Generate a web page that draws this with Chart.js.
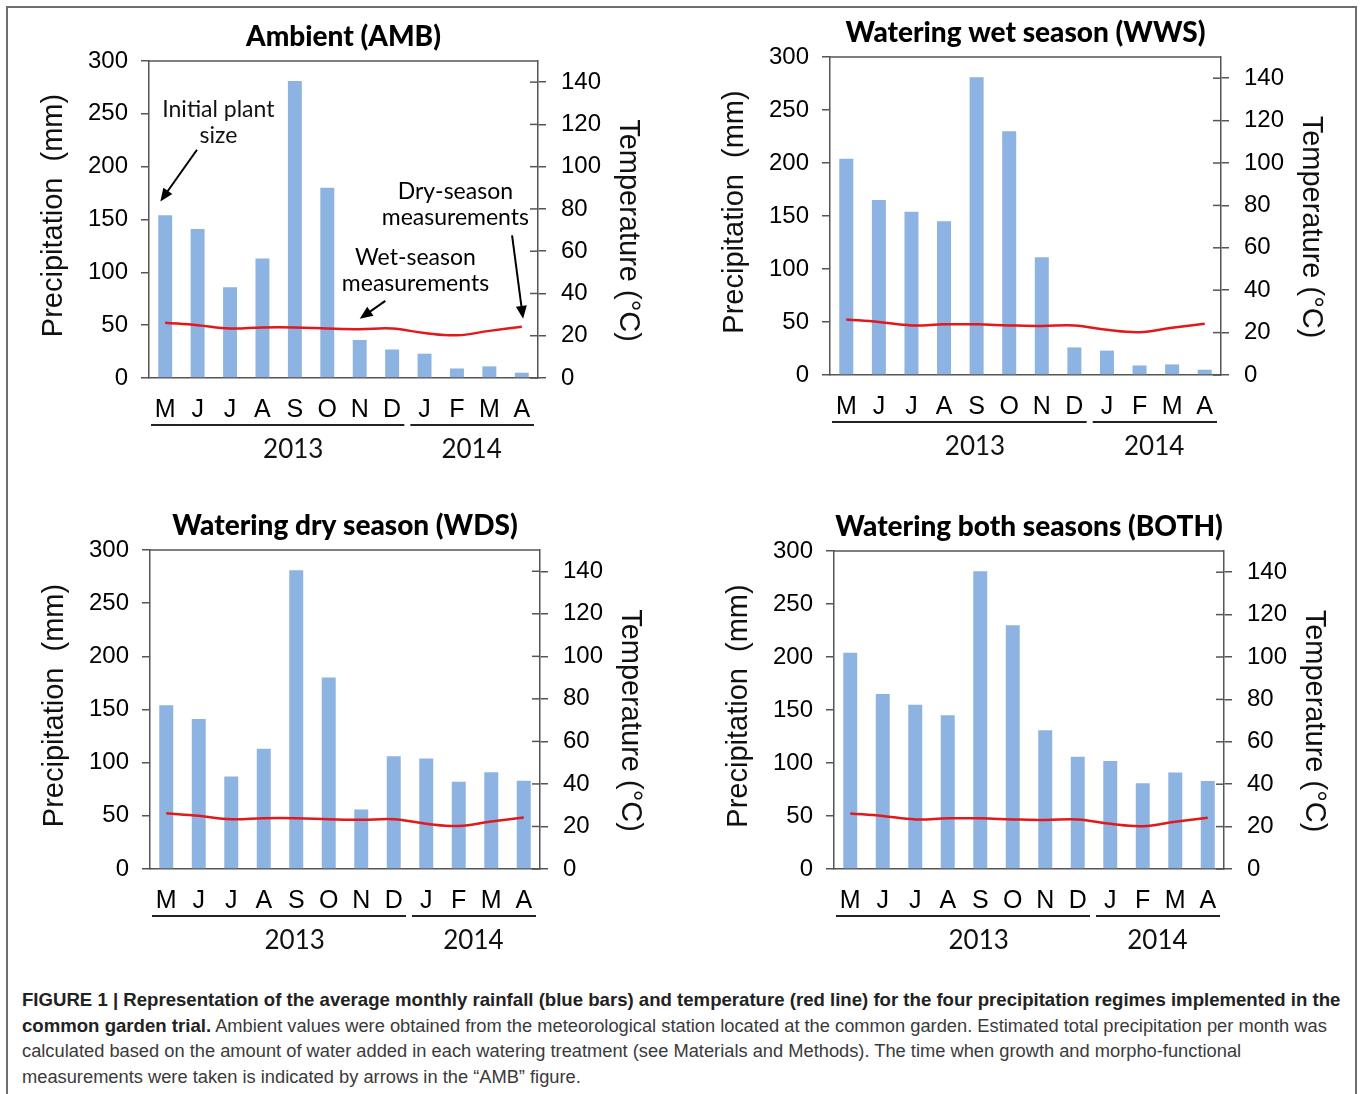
<!DOCTYPE html>
<html><head><meta charset="utf-8">
<script src="https://cdn.jsdelivr.net/npm/chart.js@4"></script>
<style>
html,body{margin:0;padding:0;background:#fff;}
body{width:1360px;height:1094px;position:relative;overflow:hidden;font-family:"Liberation Sans",Arial,sans-serif;}
#frame{position:absolute;left:6px;top:6px;width:1351px;height:1110px;border:2px solid #6e6e6e;box-sizing:border-box;}
canvas{position:absolute;}
#caption{position:absolute;left:22px;top:987px;font-size:18.3px;line-height:25.5px;color:#3a3a3a;white-space:nowrap;}
#caption b{color:#222;font-size:18.6px;}
</style></head>
<body>
<div id="frame"></div>
<canvas id="c0"></canvas>
<canvas id="c1"></canvas>
<canvas id="c2"></canvas>
<canvas id="c3"></canvas>
<div id="caption"><b>FIGURE 1 | Representation of the average monthly rainfall (blue bars) and temperature (red line) for the four precipitation regimes implemented in the</b><br><b>common garden trial.</b> Ambient values were obtained from the meteorological station located at the common garden. Estimated total precipitation per month was<br>calculated based on the amount of water added in each watering treatment (see Materials and Methods). The time when growth and morpho-functional<br>measurements were taken is indicated by arrows in the “AMB” figure.</div>
<script>
// ---- data ----
const months = ['M','J','J','A','S','O','N','D','J','F','M','A'];
const yearLabels = ['2013','2014'];
const yearStart = [0, 8];
const yearEnd = [7, 11];
const yearLabelAt = [3.95, 9.45];
const temperature = [26.2, 25.0, 23.4, 23.9, 23.9, 23.4, 23.1, 23.4, 21.3, 20.2, 22.3, 24.2];
const rainAMB  = [154, 141, 86, 113, 281, 180, 36, 27, 23, 9, 11, 5];
const rainWWS  = [204, 165, 154, 145, 281, 230, 111, 26, 23, 9, 10, 5];
const rainWDS  = [154, 141, 87, 113, 281, 180, 56, 106, 104, 82, 91, 83];
const rainBOTH = [204, 165, 155, 145, 281, 230, 131, 106, 102, 81, 91, 83];
const panelTitles = ['Ambient (AMB)', 'Watering wet season (WWS)', 'Watering dry season (WDS)', 'Watering both seasons (BOTH)'];
const panelRain = [rainAMB, rainWWS, rainWDS, rainBOTH];
const precipMax = 300, precipStep = 50;
const tempMax = 150, tempStep = 20;
// annotations on AMB (category index, mm)
const noteLines = [['Initial plant', 'size'], ['Dry-season', 'measurements'], ['Wet-season', 'measurements']];
const noteAt = [[1.64, 254], [8.95, 176], [7.72, 113.6]];
const arrowFrom = [[0.98, 216], [10.7, 135], [6.79, 73]];
const arrowTo = [[-0.15, 167], [11.04, 56], [6.0, 56]];

// ---- layout (chart-area boxes in page px) ----
const boxes = [
  {L:149, R:538, T:61, B:378},
  {L:830, R:1221, T:57, B:375},
  {L:150, R:540, T:550, B:869},
  {L:834, R:1224, T:551, B:869}
];
const PADL = 140, PADR = 120, PADT = 55, PADB = 100;
const AXIS = '#555';
const BAR = '#8DB3E2';
const RED = '#E2191C';

function arrow(ctx, x1, y1, x2, y2) {
  const a = Math.atan2(y2 - y1, x2 - x1), h = 13, w = 5.5;
  ctx.beginPath(); ctx.moveTo(x1, y1);
  ctx.lineTo(x2 - Math.cos(a) * h * 0.8, y2 - Math.sin(a) * h * 0.8);
  ctx.lineWidth = 2; ctx.strokeStyle = '#000'; ctx.stroke();
  ctx.beginPath(); ctx.moveTo(x2, y2);
  ctx.lineTo(x2 - Math.cos(a) * h + Math.sin(a) * w, y2 - Math.sin(a) * h - Math.cos(a) * w);
  ctx.lineTo(x2 - Math.cos(a) * h - Math.sin(a) * w, y2 - Math.sin(a) * h + Math.cos(a) * w);
  ctx.closePath(); ctx.fillStyle = '#000'; ctx.fill();
}

const decor = {
  id: 'decor',
  afterDraw(chart, args, opts) {
    const ctx = chart.ctx, ca = chart.chartArea;
    const x = chart.scales.x, y = chart.scales.y, y2 = chart.scales.y2;
    ctx.save();
    // top frame
    ctx.strokeStyle = AXIS; ctx.lineWidth = 1.5;
    ctx.beginPath(); ctx.moveTo(ca.left, ca.top); ctx.lineTo(ca.right, ca.top); ctx.stroke();
    // inward half of right ticks
    y2.ticks.forEach(t => {
      const py = y2.getPixelForValue(t.value);
      ctx.beginPath(); ctx.moveTo(ca.right - 8, py); ctx.lineTo(ca.right, py); ctx.stroke();
    });
    // title
    ctx.fillStyle = '#000';
    ctx.font = '900 28px Lato';
    ctx.textAlign = 'center'; ctx.textBaseline = 'middle';
    ctx.fillText(opts.title, (ca.left + ca.right) / 2, ca.top - 24);
    // axis titles
    ctx.fillStyle = '#111';
    ctx.font = '29px "Liberation Sans"';
    ctx.save(); ctx.translate(ca.left - 95, (ca.top + ca.bottom) / 2 - 4); ctx.rotate(-Math.PI / 2);
    ctx.fillText('Precipitation  (mm)', 0, 0); ctx.restore();
    ctx.save(); ctx.translate(ca.right + 90, (ca.top + ca.bottom) / 2 + 11); ctx.rotate(Math.PI / 2);
    ctx.fillText('Temperature (°C)', 0, 0); ctx.restore();
    // year groups
    ctx.strokeStyle = '#222'; ctx.lineWidth = 2;
    ctx.font = '26px Lato';
    yearLabels.forEach((lab, i) => {
      const x1 = x.getPixelForValue(yearStart[i] - 0.5) + 2;
      const x2 = x.getPixelForValue(yearEnd[i] + 0.5) - 4;
      ctx.beginPath(); ctx.moveTo(x1, ca.bottom + 47); ctx.lineTo(x2, ca.bottom + 47); ctx.stroke();
      ctx.fillText(lab, x.getPixelForValue(yearLabelAt[i]), ca.bottom + 72);
    });
    // notes
    if (opts.notes) {
      ctx.font = '23px Lato'; ctx.fillStyle = '#111';
      noteLines.forEach((lines, i) => {
        const px = x.getPixelForValue(noteAt[i][0]), py = y.getPixelForValue(noteAt[i][1]);
        lines.forEach((ln, k) => ctx.fillText(ln, px, py + k * 26));
        arrow(ctx, x.getPixelForValue(arrowFrom[i][0]), y.getPixelForValue(arrowFrom[i][1]),
                   x.getPixelForValue(arrowTo[i][0]), y.getPixelForValue(arrowTo[i][1]));
      });
    }
    ctx.restore();
  }
};

Chart.defaults.color = '#000';
Chart.defaults.font.family = '"Liberation Sans", Arial, sans-serif';

boxes.forEach((b, i) => {
  const cv = document.getElementById('c' + i);
  cv.width = b.R - b.L + PADL + PADR;
  cv.height = b.B - b.T + PADT + PADB;
  cv.style.left = (b.L - PADL) + 'px';
  cv.style.top = (b.T - PADT) + 'px';
  new Chart(cv, {
    type: 'bar',
    data: {
      labels: months,
      datasets: [
        {type: 'line', data: temperature, yAxisID: 'y2', borderColor: RED, borderWidth: 2.5,
         pointRadius: 0, tension: 0.4, fill: false, order: 0},
        {type: 'bar', data: panelRain[i], yAxisID: 'y', backgroundColor: BAR,
         barPercentage: 0.43, categoryPercentage: 1, order: 1}
      ]
    },
    options: {
      responsive: false, animation: false, devicePixelRatio: 1,
      layout: {padding: {top: PADT, left: 0, right: 0, bottom: 0}},
      plugins: {legend: {display: false}, tooltip: {enabled: false}, title: {display: false},
                decor: {title: panelTitles[i], notes: i === 0}},
      scales: {
        x: {
          grid: {display: false, drawTicks: false},
          border: {display: true, color: AXIS, width: 1.5},
          ticks: {font: {size: 25}, padding: 17, color: '#000', maxRotation: 0, autoSkip: false},
          afterFit: s => { s.height = PADB; }
        },
        y: {
          position: 'left', min: 0, max: precipMax,
          grid: {drawOnChartArea: false, drawTicks: true, tickLength: 8, color: AXIS, lineWidth: 1.5},
          border: {display: true, color: AXIS, width: 1.5},
          ticks: {stepSize: precipStep, font: {size: 24}, padding: 13, color: '#000'},
          afterFit: s => { s.width = PADL; }
        },
        y2: {
          position: 'right', min: 0, max: tempMax,
          grid: {drawOnChartArea: false, drawTicks: true, tickLength: 8, color: AXIS, lineWidth: 1.5},
          border: {display: true, color: AXIS, width: 1.5},
          ticks: {stepSize: tempStep, includeBounds: false, font: {size: 24}, padding: 15, color: '#000'},
          afterFit: s => { s.width = PADR; }
        }
      }
    },
    plugins: [decor]
  });
});
</script>
</body></html>
